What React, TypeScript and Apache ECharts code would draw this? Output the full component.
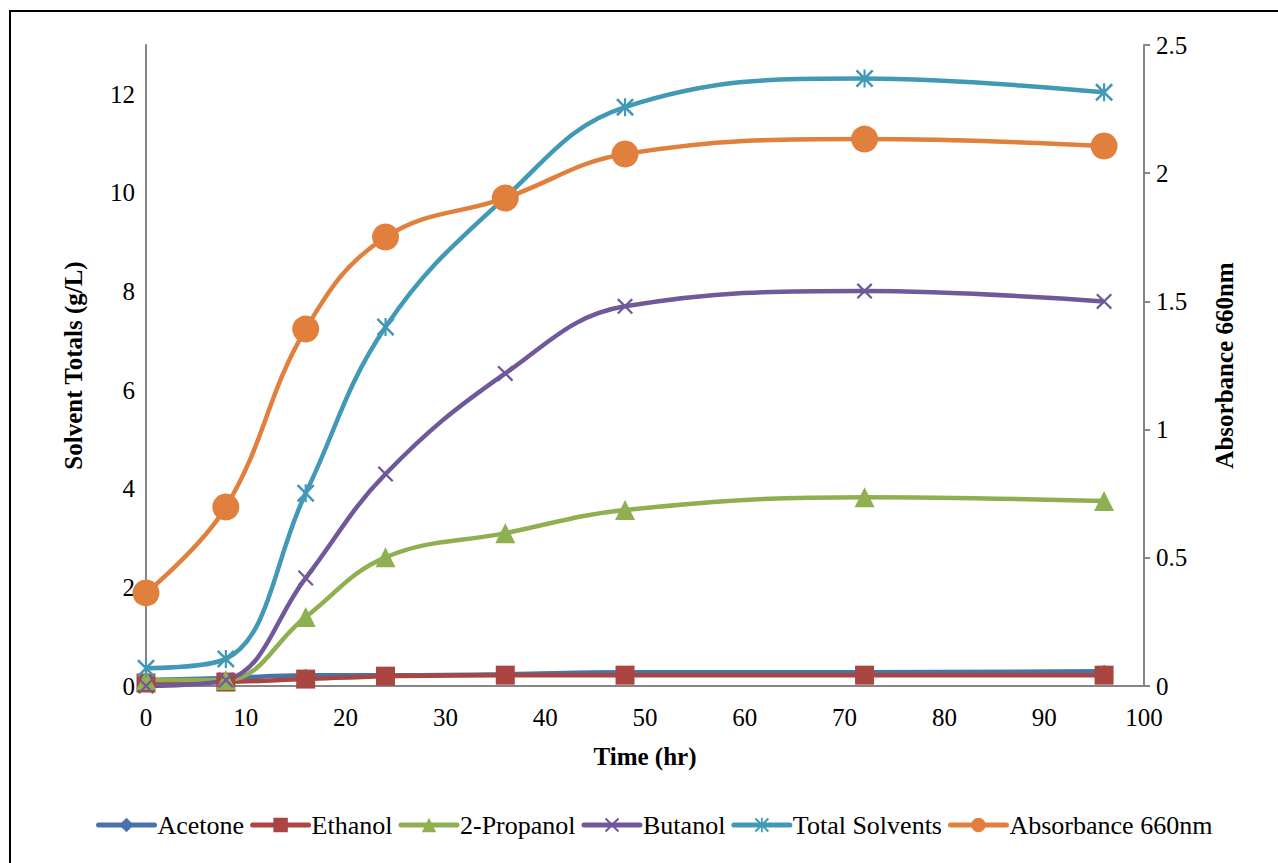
import React, { useEffect, useRef } from "react";
import * as echarts from "echarts";

const hours = [0, 8, 16, 24, 36, 48, 72, 96];
const acetone = [0.12, 0.16, 0.22, 0.22, 0.24, 0.28, 0.28, 0.3];
const ethanol = [0.06, 0.08, 0.14, 0.2, 0.22, 0.22, 0.22, 0.22];
const propanol = [0.12, 0.12, 1.4, 2.61, 3.1, 3.57, 3.83, 3.75];
const butanol = [0.0, 0.12, 2.19, 4.3, 6.34, 7.7, 8.01, 7.8];
const totalSolvents = [0.36, 0.55, 3.91, 7.28, 9.91, 11.74, 12.32, 12.04];
const absorbance = [0.363, 0.698, 1.392, 1.751, 1.903, 2.075, 2.133, 2.106];

const leftTicks = [0, 2, 4, 6, 8, 10, 12];
const rightTicks = [0, 0.5, 1, 1.5, 2, 2.5];

const XPATH = "path://M0,1 L1,0 L10,9 L9,10 Z M9,0 L10,1 L1,10 L0,9 Z";
const STARPATH =
  "path://M0,1 L1,0 L10,9 L9,10 Z M9,0 L10,1 L1,10 L0,9 Z M4.4,0 L5.6,0 L5.6,10 L4.4,10 Z";

const FONT = "Liberation Serif";

function pairs(vals: number[]) {
  return hours.map((h, i) => [h, vals[i]]);
}

export default function App() {
  const ref = useRef<HTMLDivElement>(null);
  useEffect(() => {
    if (!ref.current) return;
    const chart = echarts.init(ref.current, undefined, { renderer: "svg" });
    const mk = (
      name: string,
      data: number[],
      color: string,
      symbol: string,
      symbolSize: number,
      yAxisIndex = 0
    ) => ({
      name,
      type: "line",
      yAxisIndex,
      data: pairs(data),
      smooth: 0.4,
      symbol,
      symbolSize,
      lineStyle: { color, width: 4.5 },
      itemStyle: { color },
      z: 2,
    });
    chart.setOption({
      animation: false,
      textStyle: { fontFamily: FONT, color: "#000" },
      grid: { left: 146, right: 134, top: 45, bottom: 177, containLabel: false },
      legend: {
        bottom: 20,
        left: 91,
        itemWidth: 56,
        itemHeight: 18,
        itemGap: 6,
        lineStyle: { width: 5, cap: "round" },
        textStyle: { fontFamily: FONT, fontSize: 26, color: "#000", padding: [0, 0, 0, -2] },
        data: ["Acetone", "Ethanol", "2-Propanol", "Butanol", "Total Solvents", "Absorbance 660nm"],
      },
      xAxis: {
        type: "value",
        min: 0,
        max: 100,
        interval: 10,
        name: "Time (hr)",
        nameLocation: "middle",
        nameGap: 58,
        nameTextStyle: { fontFamily: FONT, fontSize: 25, fontWeight: "bold", color: "#000" },
        axisLine: { show: true, onZero: false, lineStyle: { color: "#868686", width: 2 } },
        axisTick: { show: false },
        splitLine: { show: false },
        axisLabel: { fontFamily: FONT, fontSize: 25, color: "#000", margin: 19 },
      },
      yAxis: [
        {
          type: "value",
          min: 0,
          max: 13,
          interval: 2,
          name: "Solvent Totals (g/L)",
          nameLocation: "middle",
          nameRotate: 90,
          nameGap: 60,
          nameTextStyle: { fontFamily: FONT, fontSize: 25, fontWeight: "bold", color: "#000" },
          axisLine: { show: true, lineStyle: { color: "#868686", width: 2 } },
          axisTick: { show: false },
          splitLine: { show: false },
          axisLabel: {
            fontFamily: FONT,
            fontSize: 25,
            color: "#000",
            margin: 11,
            formatter: (v: number) => (leftTicks.includes(v) ? String(v) : ""),
          },
        },
        {
          type: "value",
          min: 0,
          max: 2.5,
          interval: 0.5,
          position: "right",
          name: "Absorbance 660nm",
          nameLocation: "middle",
          nameRotate: 90,
          nameGap: 68,
          nameTextStyle: { fontFamily: FONT, fontSize: 25, fontWeight: "bold", color: "#000" },
          axisLine: { show: true, lineStyle: { color: "#868686", width: 2 } },
          axisTick: { show: true, length: 6, lineStyle: { color: "#868686", width: 2 } },
          splitLine: { show: false },
          axisLabel: {
            fontFamily: FONT,
            fontSize: 25,
            color: "#000",
            margin: 12,
            formatter: (v: number) => (rightTicks.includes(v) ? String(v) : ""),
          },
        },
      ],
      graphic: [
        { type: "line", shape: { x1: 9, y1: 11, x2: 1278, y2: 11 }, style: { stroke: "#000", lineWidth: 2 } },
        { type: "line", shape: { x1: 10, y1: 11, x2: 10, y2: 863 }, style: { stroke: "#000", lineWidth: 2 } },
      ],
      series: [
        mk("Acetone", acetone, "#4673AC", "diamond", 13),
        mk("Ethanol", ethanol, "#AA4542", "rect", 19),
        mk("2-Propanol", propanol, "#8FB050", "triangle", 20),
        mk("Butanol", butanol, "#71589A", XPATH, 16),
        mk("Total Solvents", totalSolvents, "#4199B5", STARPATH, 18),
        mk("Absorbance 660nm", absorbance, "#E0803C", "circle", 27, 1),
      ],
    });
    return () => chart.dispose();
  }, []);
  return (
    <div
      ref={ref}
      style={{ position: "fixed", left: 0, top: 0, width: 1278, height: 863, background: "#fff" }}
    />
  );
}
